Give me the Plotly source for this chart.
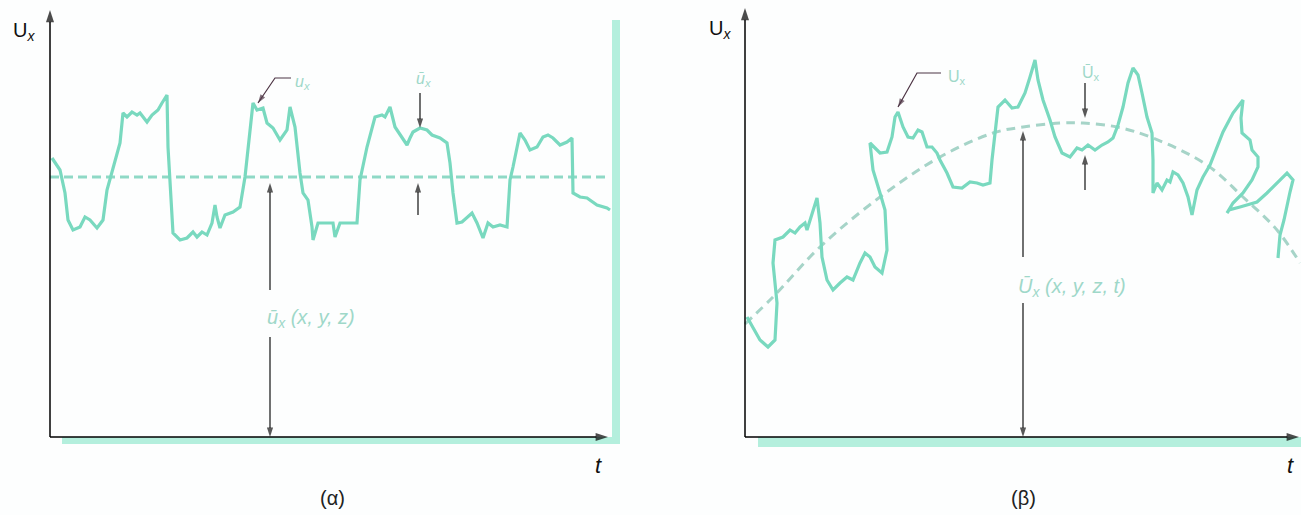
import plotly.graph_objects as go

# ---------------- data (arbitrary units) ----------------
# panel (a): stationary turbulent signal
t_a = [2, 10, 15, 18, 23, 30, 35, 40, 47, 53, 57, 62, 70, 73, 77, 82, 87, 90, 97, 102,
       108, 112, 117, 118, 123, 130, 137, 143, 147, 152, 157, 162, 165, 167, 170, 175,
       183, 190, 195, 203, 207, 213, 217, 223, 230, 237, 240, 245, 250, 253, 258, 262,
       263, 268, 277, 283, 285, 290, 300, 307, 310, 317, 325, 332, 335, 340, 345, 352,
       357, 360, 363, 370, 377, 382, 390, 397, 400, 403, 407, 412, 417, 422, 427, 433,
       438, 443, 450, 457, 460, 463, 470, 475, 480, 487, 493, 498, 503, 510, 517, 522,
       523, 530, 537, 547, 557, 560]
u_a = [279, 267, 244, 217, 207, 210, 220, 217, 209, 217, 247, 264, 294, 324, 320, 325,
       322, 324, 315, 322, 327, 334, 342, 290, 204, 197, 199, 205, 200, 205, 202, 214,
       232, 220, 209, 222, 225, 230, 260, 334, 327, 329, 314, 309, 297, 307, 330, 310,
       264, 244, 237, 210, 197, 214, 214, 214, 200, 214, 214, 214, 257, 290, 320, 322,
       320, 330, 310, 300, 292, 299, 305, 309, 307, 302, 299, 294, 274, 244, 214, 215,
       219, 224, 214, 199, 214, 210, 212, 210, 257, 270, 304, 297, 287, 290, 300, 302,
       299, 292, 295, 299, 244, 240, 239, 232, 229, 227]
mean_t_a = [0, 558]
mean_u_a = [260, 260]

# panel (b): non-stationary turbulent signal
t_b = [2, 8, 15, 23, 30, 32, 28, 30, 38, 45, 50, 55, 60, 62, 67, 72, 75, 77, 82, 88, 95,
       102, 108, 115, 120, 125, 130, 137, 142, 140, 135, 128, 125, 132, 135, 142, 147,
       150, 153, 158, 163, 168, 173, 177, 182, 187, 192, 195, 202, 208, 217, 225, 232,
       238, 245, 247, 250, 253, 260, 267, 273, 280, 285, 290, 293, 298, 305, 310, 317,
       325, 332, 337, 343, 350, 357, 363, 368, 373, 378, 383, 388, 393, 397, 402, 407,
       408, 408, 412, 417, 422, 425, 428, 433, 438, 443, 447, 452, 458, 465, 470, 478,
       488, 498, 496, 497, 505, 507, 513, 513, 507, 498, 488, 482, 484, 495, 512, 522,
       532, 542, 548, 545, 539, 535, 533]
u_b = [120, 110, 97, 90, 97, 134, 174, 197, 200, 207, 204, 210, 214, 207, 222, 239, 214,
       180, 157, 147, 154, 160, 157, 174, 184, 180, 170, 164, 187, 227, 244, 267, 294,
       287, 284, 285, 300, 320, 325, 310, 300, 299, 307, 305, 290, 290, 284, 277, 264,
       250, 249, 255, 254, 252, 254, 277, 307, 330, 337, 329, 330, 344, 360, 377, 357,
       337, 317, 300, 284, 280, 289, 287, 292, 287, 292, 295, 299, 312, 330, 354, 369,
       362, 344, 320, 304, 277, 244, 254, 247, 257, 255, 265, 262, 254, 240, 222, 247,
       260, 272, 284, 305, 324, 337, 319, 304, 297, 287, 280, 270, 257, 244, 234, 224,
       227, 230, 235, 244, 254, 264, 257, 245, 217, 202, 179]
mean_t_b = [0, 28, 75, 135, 195, 248, 278, 315, 338, 372, 408, 462, 498, 532, 555]
mean_u_b = [113, 140, 190, 240, 280, 304, 310, 314, 314, 310, 299, 272, 240, 207, 174]

# arrow segments: (panel, tail_t, tail_u, tip_t, tip_u)
axis_arrows = [
    ("a", 0, 0, 0, 427), ("a", 0, 0, 558, 0),
    ("b", 0, 0, 0, 429), ("b", 0, 0, 554, 0),
]
marker_arrows = [
    ("a", 220, 147, 220, 254), ("a", 220, 100, 220, 0),      # mean value (a)
    ("a", 370, 344, 370, 309), ("a", 368, 222, 368, 254),    # fluctuation (a)
    ("b", 278, 180, 278, 306), ("b", 278, 134, 278, 0),      # mean value (b)
    ("b", 340, 354, 340, 319), ("b", 340, 247, 340, 282),    # fluctuation (b)
]
leader_arrows = [
    ("a", [241, 225, 208], [359, 359, 334]),
    ("b", [196, 172, 153], [364, 364, 330]),
]

# ---------------- styles ----------------
BG = "#fdfefe"
CURVE = "#79d9bf"
DASH_A = "#8fd9c6"
DASH_B = "#a6d4c8"
BAND = "#b4efdd"
LABEL = "#9fd8c9"
LEADER = "#4d3444"
FONT = "Liberation Sans, Arial, sans-serif"
AX = {"a": ("x", "y"), "b": ("x2", "y2")}

fig = go.Figure()

fig.add_trace(go.Scatter(x=mean_t_a, y=mean_u_a, mode="lines", xaxis="x", yaxis="y",
                         line=dict(color=DASH_A, width=3, dash="9px,5px"), hoverinfo="skip"))
fig.add_trace(go.Scatter(x=t_a, y=u_a, mode="lines", xaxis="x", yaxis="y",
                         line=dict(color=CURVE, width=3.2), hoverinfo="skip"))
fig.add_trace(go.Scatter(x=mean_t_b, y=mean_u_b, mode="lines", xaxis="x2", yaxis="y2",
                         line=dict(color=DASH_B, width=3, dash="9px,6px", shape="spline"),
                         hoverinfo="skip"))
fig.add_trace(go.Scatter(x=t_b, y=u_b, mode="lines", xaxis="x2", yaxis="y2",
                         line=dict(color=CURVE, width=3.2), hoverinfo="skip"))


def add_arrow(panel, xs, ys, color, width, head):
    xa, ya = AX[panel]
    n = len(xs)
    fig.add_trace(go.Scatter(
        x=xs, y=ys, mode="lines+markers", xaxis=xa, yaxis=ya, hoverinfo="skip",
        line=dict(color=color, width=width),
        marker=dict(symbol="arrow", angleref="previous", color=color,
                    size=[0] * (n - 1) + [head], line=dict(width=0)),
    ))


for p, x0, y0, x1, y1 in axis_arrows:
    add_arrow(p, [x0, x1], [y0, y1], "black", 1.5, 13)
for p, x0, y0, x1, y1 in marker_arrows:
    add_arrow(p, [x0, x1], [y0, y1], "#111111", 1.2, 10)
for p, xs, ys in leader_arrows:
    add_arrow(p, xs, ys, LEADER, 1.2, 9)

shapes = [
    dict(type="rect", xref="x", yref="y", x0=562, x1=570, y0=-6, y1=417,
         fillcolor=BAND, line=dict(width=0), layer="below"),
    dict(type="rect", xref="x", yref="y", x0=12, x1=570, y0=-7, y1=0,
         fillcolor=BAND, line=dict(width=0), layer="below"),
    dict(type="rect", xref="x2", yref="y2", x0=13, x1=556, y0=-10, y1=0,
         fillcolor=BAND, line=dict(width=0), layer="below"),
]


def label(xr, yr, x, y, text, size=19, color=LABEL, xanchor="center"):
    return dict(xref=xr, yref=yr, x=x, y=y, text=text, showarrow=False,
                xanchor=xanchor, yanchor="middle",
                font=dict(family=FONT, size=size, color=color))


annotations = [
    label("x", "y", -26, 406, "U<sub><i>x</i></sub>", size=20, color="#111111"),
    label("x2", "y2", -25, 408, "U<sub><i>x</i></sub>", size=20, color="#111111"),
    label("x", "y", 548, -28, "<i>t</i>", size=22, color="#111111"),
    label("x2", "y2", 545, -28, "<i>t</i>", size=22, color="#111111"),
    label("x", "y", 282, -61, "(α)", size=20, color="#222222"),
    label("x2", "y2", 278, -61, "(β)", size=20, color="#222222"),
    label("x", "y", 215, 119, "<i>ū<sub>x</sub> (x, y, z)</i>", size=20, xanchor="left"),
    label("x2", "y2", 271, 150, "<i>Ū<sub>x</sub> (x, y, z, t)</i>", size=20, xanchor="left"),
    label("x", "y", 243, 355, "<i>u<sub>x</sub></i>", size=16, xanchor="left"),
    label("x", "y", 373, 358, "<i>ū<sub>x</sub></i>", size=16),
    label("x2", "y2", 201, 360, "U<sub>x</sub>", size=16, xanchor="left"),
    label("x2", "y2", 346, 364, "Ū<sub>x</sub>", size=16),
]

hidden = dict(visible=False, fixedrange=True)
fig.update_layout(
    width=1301, height=515,
    margin=dict(l=0, r=0, t=0, b=0),
    paper_bgcolor=BG, plot_bgcolor=BG,
    showlegend=False,
    xaxis=dict(domain=[0, 640 / 1301], range=[-50, 590], **hidden),
    yaxis=dict(domain=[0, 1], range=[-78, 437], **hidden),
    xaxis2=dict(domain=[690 / 1301, 1], range=[-55, 556], **hidden),
    yaxis2=dict(domain=[0, 1], range=[-78, 437], **hidden),
    shapes=shapes,
    annotations=annotations,
)

fig.write_html("out.html")
